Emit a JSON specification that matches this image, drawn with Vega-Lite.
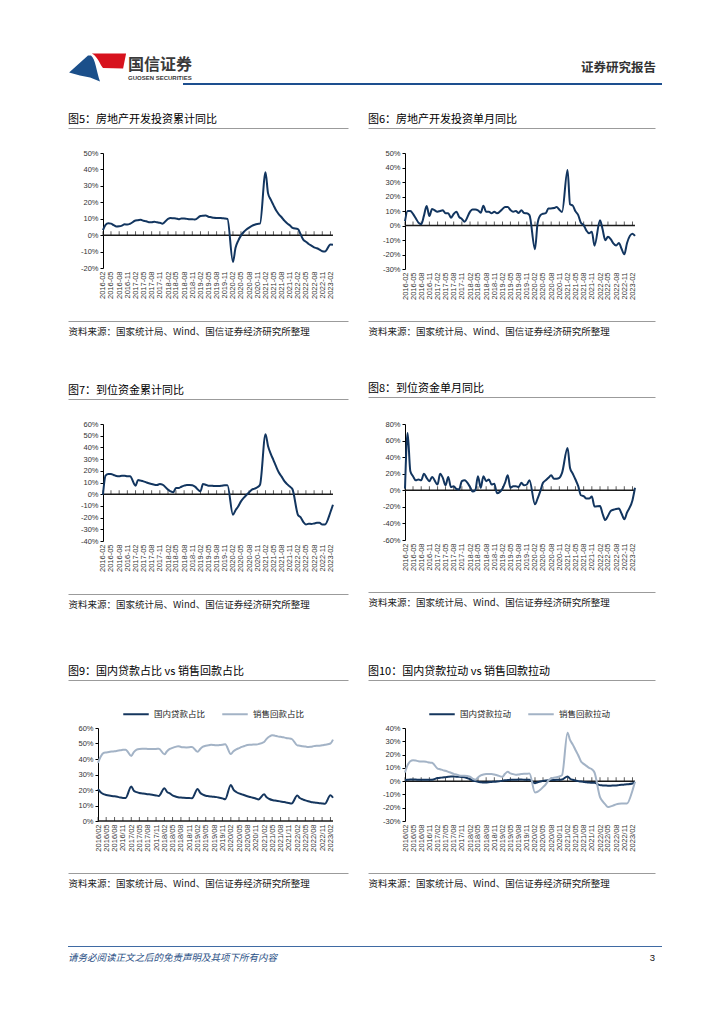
{
"$schema": "https://vega.github.io/schema/vega-lite/v6.json",
"background": "white",
"padding": {"left": 68, "top": 52, "right": 10, "bottom": 10},
"spacing": 0,
"resolve": {"scale": {"color": "independent", "shape": "independent"}, "legend": {"color": "independent"}},
"datasets": {
"ticks": [{"d":"2016-02"},{"d":"2016-05"},{"d":"2016-08"},{"d":"2016-11"},{"d":"2017-02"},{"d":"2017-05"},{"d":"2017-08"},{"d":"2017-11"},{"d":"2018-02"},{"d":"2018-05"},{"d":"2018-08"},{"d":"2018-11"},{"d":"2019-02"},{"d":"2019-05"},{"d":"2019-08"},{"d":"2019-11"},{"d":"2020-02"},{"d":"2020-05"},{"d":"2020-08"},{"d":"2020-11"},{"d":"2021-02"},{"d":"2021-05"},{"d":"2021-08"},{"d":"2021-11"},{"d":"2022-02"},{"d":"2022-05"},{"d":"2022-08"},{"d":"2022-11"},{"d":"2023-02"}],
"m": [
{"d":"2016-02","inv_ytd":3.0,"inv_m":3.0,"fund_ytd":-0.5,"fund_m":2,"国内贷款占比":20.5,"销售回款占比":37.5,"国内贷款拉动":0.8,"销售回款拉动":6.5},
{"d":"2016-03","inv_ytd":6.2,"inv_m":10.0,"fund_ytd":15.8,"fund_m":69,"国内贷款占比":18.5,"销售回款占比":41.5,"国内贷款拉动":1.0,"销售回款拉动":12},
{"d":"2016-04","inv_ytd":7.2,"inv_m":10.0,"fund_ytd":17.2,"fund_m":23,"国内贷款占比":17.3,"销售回款占比":43.9,"国内贷款拉动":1.2,"销售回款拉动":15.0},
{"d":"2016-05","inv_ytd":7.0,"inv_m":8.0,"fund_ytd":17.2,"fund_m":17,"国内贷款占比":16.8,"销售回款占比":44.2,"国内贷款拉动":1.2,"销售回款拉动":15.8},
{"d":"2016-06","inv_ytd":6.1,"inv_m":5.0,"fund_ytd":16.4,"fund_m":12,"国内贷款占比":16.4,"销售回款占比":44.5,"国内贷款拉动":1.2,"销售回款拉动":15.5},
{"d":"2016-07","inv_ytd":5.3,"inv_m":2.0,"fund_ytd":15.5,"fund_m":13,"国内贷款占比":16.1,"销售回款占比":44.8,"国内贷款拉动":1.0,"销售回款拉动":15.0},
{"d":"2016-08","inv_ytd":5.4,"inv_m":0.8,"fund_ytd":15.3,"fund_m":12,"国内贷款占比":15.9,"销售回款占比":45.0,"国内贷款拉动":1.0,"销售回款拉动":14.8},
{"d":"2016-09","inv_ytd":5.8,"inv_m":6.8,"fund_ytd":15.8,"fund_m":20,"国内贷款占比":15.6,"销售回款占比":45.3,"国内贷款拉动":1.0,"销售回款拉动":14.8},
{"d":"2016-10","inv_ytd":6.6,"inv_m":13.5,"fund_ytd":15.8,"fund_m":15,"国内贷款占比":15.2,"销售回款占比":45.6,"国内贷款拉动":1.0,"销售回款拉动":14.5},
{"d":"2016-11","inv_ytd":6.5,"inv_m":6.5,"fund_ytd":15.3,"fund_m":11,"国内贷款占比":14.9,"销售回款占比":45.9,"国内贷款拉动":1.0,"销售回款拉动":14.0},
{"d":"2016-12","inv_ytd":6.9,"inv_m":11.4,"fund_ytd":15.3,"fund_m":16,"国内贷款占比":14.9,"销售回款占比":46.0,"国内贷款拉动":1.0,"销售回款拉动":13.8},
{"d":"2017-02","inv_ytd":8.9,"inv_m":9.5,"fund_ytd":7.3,"fund_m":7,"国内贷款占比":22.3,"销售回款占比":42.0,"国内贷款拉动":2.3,"销售回款拉动":9.5},
{"d":"2017-03","inv_ytd":9.1,"inv_m":10.0,"fund_ytd":12.1,"fund_m":20,"国内贷款占比":19.5,"销售回款占比":44.5,"国内贷款拉动":2.5,"销售回款拉动":9.0},
{"d":"2017-04","inv_ytd":9.3,"inv_m":10.5,"fund_ytd":11.6,"fund_m":15,"国内贷款占比":18.6,"销售回款占比":46.0,"国内贷款拉动":2.8,"销售回款拉动":8.3},
{"d":"2017-05","inv_ytd":8.8,"inv_m":8.4,"fund_ytd":11.0,"fund_m":6,"国内贷款占比":18.0,"销售回款占比":46.5,"国内贷款拉动":3.0,"销售回款拉动":7.8},
{"d":"2017-06","inv_ytd":8.5,"inv_m":8.4,"fund_ytd":10.1,"fund_m":16,"国内贷款占比":17.8,"销售回款占比":46.6,"国内贷款拉动":3.3,"销售回款拉动":7.0},
{"d":"2017-07","inv_ytd":7.9,"inv_m":5.4,"fund_ytd":9.3,"fund_m":4,"国内贷款占比":17.6,"销售回款占比":46.6,"国内贷款拉动":3.5,"销售回款拉动":6.3},
{"d":"2017-08","inv_ytd":7.9,"inv_m":7.9,"fund_ytd":8.7,"fund_m":5,"国内贷款占比":17.3,"销售回款占比":46.5,"国内贷款拉动":3.5,"销售回款拉动":5.5},
{"d":"2017-09","inv_ytd":8.1,"inv_m":9.5,"fund_ytd":8.1,"fund_m":1.5,"国内贷款占比":17.1,"销售回款占比":46.5,"国内贷款拉动":3.3,"销售回款拉动":5.0},
{"d":"2017-10","inv_ytd":7.8,"inv_m":6.0,"fund_ytd":7.9,"fund_m":1,"国内贷款占比":16.8,"销售回款占比":46.4,"国内贷款拉动":3.3,"销售回款拉动":4.3},
{"d":"2017-11","inv_ytd":7.5,"inv_m":4.5,"fund_ytd":8.7,"fund_m":11,"国内贷款占比":16.5,"销售回款占比":46.5,"国内贷款拉动":3.2,"销售回款拉动":4.0},
{"d":"2017-12","inv_ytd":7.0,"inv_m":2.6,"fund_ytd":8.2,"fund_m":12,"国内贷款占比":16.2,"销售回款占比":46.6,"国内贷款拉动":3.0,"销售回款拉动":4.0},
{"d":"2018-02","inv_ytd":9.9,"inv_m":9.5,"fund_ytd":3.9,"fund_m":4,"国内贷款占比":21.2,"销售回款占比":43.0,"国内贷款拉动":1.5,"销售回款拉动":3.3},
{"d":"2018-03","inv_ytd":10.4,"inv_m":11.0,"fund_ytd":2.5,"fund_m":-1.5,"国内贷款占比":18.8,"销售回款占比":45.0,"国内贷款拉动":0.5,"销售回款拉动":2.0},
{"d":"2018-04","inv_ytd":10.3,"inv_m":11.0,"fund_ytd":1.6,"fund_m":0,"国内贷款占比":17.8,"销售回款占比":46.5,"国内贷款拉动":0.0,"销售回款拉动":1.0},
{"d":"2018-05","inv_ytd":10.2,"inv_m":10.5,"fund_ytd":5.3,"fund_m":17,"国内贷款占比":16.5,"销售回款占比":47.2,"国内贷款拉动":-0.5,"销售回款拉动":2.8},
{"d":"2018-06","inv_ytd":9.7,"inv_m":8.8,"fund_ytd":5.3,"fund_m":3,"国内贷款占比":15.8,"销售回款占比":47.8,"国内贷款拉动":-0.8,"销售回款拉动":4.3},
{"d":"2018-07","inv_ytd":10.2,"inv_m":13.7,"fund_ytd":6.4,"fund_m":17,"国内贷款占比":15.3,"销售回款占比":48.3,"国内贷款拉动":-1.0,"销售回款拉动":5.0},
{"d":"2018-08","inv_ytd":10.1,"inv_m":9.5,"fund_ytd":7.3,"fund_m":11,"国内贷款占比":15.1,"销售回款占比":47.8,"国内贷款拉动":-1.0,"销售回款拉动":5.3},
{"d":"2018-09","inv_ytd":9.9,"inv_m":9.5,"fund_ytd":7.9,"fund_m":13,"国内贷款占比":15.0,"销售回款占比":47.6,"国内贷款拉动":-0.8,"销售回款拉动":5.3},
{"d":"2018-10","inv_ytd":9.7,"inv_m":8.4,"fund_ytd":7.9,"fund_m":7,"国内贷款占比":14.9,"销售回款占比":47.5,"国内贷款拉动":-0.6,"销售回款拉动":5.3},
{"d":"2018-11","inv_ytd":9.7,"inv_m":9.5,"fund_ytd":7.6,"fund_m":8,"国内贷款占比":14.8,"销售回款占比":47.6,"国内贷款拉动":-0.5,"销售回款拉动":5.0},
{"d":"2018-12","inv_ytd":9.5,"inv_m":8.4,"fund_ytd":6.4,"fund_m":-3.5,"国内贷款占比":14.7,"销售回款占比":47.8,"国内贷款拉动":-0.3,"销售回款拉动":4.5},
{"d":"2019-02","inv_ytd":11.6,"inv_m":11.4,"fund_ytd":2.5,"fund_m":2,"国内贷款占比":20.7,"销售回款占比":44.6,"国内贷款拉动":0.3,"销售回款拉动":3.3},
{"d":"2019-03","inv_ytd":11.8,"inv_m":12.8,"fund_ytd":8.7,"fund_m":9,"国内贷款占比":18.2,"销售回款占比":46.5,"国内贷款拉动":0.6,"销售回款拉动":5.5},
{"d":"2019-04","inv_ytd":11.9,"inv_m":12.8,"fund_ytd":8.1,"fund_m":18,"国内贷款占比":17.0,"销售回款占比":48.0,"国内贷款拉动":0.8,"销售回款拉动":7.0},
{"d":"2019-05","inv_ytd":11.2,"inv_m":10.7,"fund_ytd":7.3,"fund_m":3,"国内贷款占比":16.3,"销售回款占比":48.6,"国内贷款拉动":1.0,"销售回款拉动":5.8},
{"d":"2019-06","inv_ytd":10.9,"inv_m":9.5,"fund_ytd":7.3,"fund_m":5,"国内贷款占比":16.0,"销售回款占比":48.8,"国内贷款拉动":1.0,"销售回款拉动":5.3},
{"d":"2019-07","inv_ytd":10.6,"inv_m":10.0,"fund_ytd":7.0,"fund_m":5,"国内贷款占比":15.8,"销售回款占比":49.2,"国内贷款拉动":1.1,"销售回款拉动":4.8},
{"d":"2019-08","inv_ytd":10.5,"inv_m":8.6,"fund_ytd":7.0,"fund_m":4,"国内贷款占比":15.6,"销售回款占比":49.0,"国内贷款拉动":1.2,"销售回款拉动":5.0},
{"d":"2019-09","inv_ytd":10.5,"inv_m":10.5,"fund_ytd":7.0,"fund_m":9,"国内贷款占比":15.4,"销售回款占比":48.8,"国内贷款拉动":1.2,"销售回款拉动":5.3},
{"d":"2019-10","inv_ytd":10.3,"inv_m":8.6,"fund_ytd":7.3,"fund_m":6,"国内贷款占比":15.0,"销售回款占比":49.0,"国内贷款拉动":1.1,"销售回款拉动":5.5},
{"d":"2019-11","inv_ytd":10.2,"inv_m":8.4,"fund_ytd":7.6,"fund_m":7,"国内贷款占比":14.6,"销售回款占比":49.2,"国内贷款拉动":1.0,"销售回款拉动":5.5},
{"d":"2019-12","inv_ytd":9.9,"inv_m":7.2,"fund_ytd":7.6,"fund_m":12,"国内贷款占比":14.1,"销售回款占比":49.5,"国内贷款拉动":1.0,"销售回款拉动":5.8},
{"d":"2020-02","inv_ytd":-16.3,"inv_m":-16.3,"fund_ytd":-17.5,"fund_m":-17,"国内贷款占比":23.3,"销售回款占比":43.2,"国内贷款拉动":-1.5,"销售回款拉动":-8.5},
{"d":"2020-03","inv_ytd":-7.7,"inv_m":1.5,"fund_ytd":-13.7,"fund_m":-10,"国内贷款占比":20.2,"销售回款占比":45.0,"国内贷款拉动":-0.8,"销售回款拉动":-8.0},
{"d":"2020-04","inv_ytd":-3.3,"inv_m":7.0,"fund_ytd":-10.3,"fund_m":-1,"国内贷款占比":18.7,"销售回款占比":46.2,"国内贷款拉动":-0.3,"销售回款拉动":-6.5},
{"d":"2020-05","inv_ytd":-0.3,"inv_m":8.1,"fund_ytd":-6.1,"fund_m":9,"国内贷款占比":17.8,"销售回款占比":47.0,"国内贷款拉动":0.2,"销售回款拉动":-4.5},
{"d":"2020-06","inv_ytd":1.9,"inv_m":8.5,"fund_ytd":-3.2,"fund_m":12,"国内贷款占比":17.2,"销售回款占比":47.8,"国内贷款拉动":0.5,"销售回款拉动":-2.5},
{"d":"2020-07","inv_ytd":3.4,"inv_m":11.7,"fund_ytd":-0.7,"fund_m":15,"国内贷款占比":16.6,"销售回款占比":48.4,"国内贷款拉动":0.7,"销售回款拉动":0.5},
{"d":"2020-08","inv_ytd":4.6,"inv_m":11.8,"fund_ytd":1.6,"fund_m":18,"国内贷款占比":16.0,"销售回款占比":49.0,"国内贷款拉动":0.8,"销售回款拉动":2.0},
{"d":"2020-09","inv_ytd":5.6,"inv_m":12.0,"fund_ytd":3.9,"fund_m":14,"国内贷款占比":15.5,"销售回款占比":49.2,"国内贷款拉动":0.9,"销售回款拉动":2.5},
{"d":"2020-10","inv_ytd":6.3,"inv_m":12.7,"fund_ytd":4.7,"fund_m":14,"国内贷款占比":15.0,"销售回款占比":49.3,"国内贷款拉动":1.0,"销售回款拉动":3.0},
{"d":"2020-11","inv_ytd":6.8,"inv_m":10.9,"fund_ytd":5.9,"fund_m":15,"国内贷款占比":14.5,"销售回款占比":49.4,"国内贷款拉动":1.0,"销售回款拉动":3.5},
{"d":"2020-12","inv_ytd":7.0,"inv_m":9.3,"fund_ytd":8.1,"fund_m":21,"国内贷款占比":13.9,"销售回款占比":49.6,"国内贷款拉动":1.2,"销售回款拉动":4.5},
{"d":"2021-02","inv_ytd":38.3,"inv_m":38.3,"fund_ytd":51.2,"fund_m":51,"国内贷款占比":17.2,"销售回款占比":51.0,"国内贷款拉动":3.5,"销售回款拉动":36.5},
{"d":"2021-03","inv_ytd":25.6,"inv_m":14.6,"fund_ytd":41.3,"fund_m":27,"国内贷款占比":15.3,"销售回款占比":53.0,"国内贷款拉动":1.8,"销售回款拉动":31},
{"d":"2021-04","inv_ytd":21.6,"inv_m":13.7,"fund_ytd":34.5,"fund_m":20,"国内贷款占比":14.2,"销售回款占比":54.5,"国内贷款拉动":1.0,"销售回款拉动":27.5},
{"d":"2021-05","inv_ytd":18.3,"inv_m":9.8,"fund_ytd":29.2,"fund_m":13,"国内贷款占比":13.5,"销售回款占比":55.3,"国内贷款拉动":0.5,"销售回款拉动":23.5},
{"d":"2021-06","inv_ytd":15.0,"inv_m":7.2,"fund_ytd":23.5,"fund_m":5,"国内贷款占比":13.2,"销售回款占比":55.0,"国内贷款拉动":0.0,"销售回款拉动":19.5},
{"d":"2021-07","inv_ytd":12.7,"inv_m":1.9,"fund_ytd":18.5,"fund_m":-6,"国内贷款占比":12.9,"销售回款占比":54.6,"国内贷款拉动":-0.3,"销售回款拉动":15},
{"d":"2021-08","inv_ytd":10.9,"inv_m":0.3,"fund_ytd":15.0,"fund_m":-7,"国内贷款占比":12.6,"销售回款占比":54.3,"国内贷款拉动":-0.6,"销售回款拉动":13},
{"d":"2021-09","inv_ytd":8.8,"inv_m":-3.5,"fund_ytd":11.1,"fund_m":-10,"国内贷款占比":12.3,"销售回款占比":54.0,"国内贷款拉动":-0.9,"销售回款拉动":11.5},
{"d":"2021-10","inv_ytd":7.2,"inv_m":-5.4,"fund_ytd":8.6,"fund_m":-10,"国内贷款占比":12.0,"销售回款占比":53.6,"国内贷款拉动":-1.1,"销售回款拉动":10},
{"d":"2021-11","inv_ytd":6.0,"inv_m":-4.3,"fund_ytd":6.5,"fund_m":-7.6,"国内贷款占比":11.6,"销售回款占比":53.3,"国内贷款拉动":-1.2,"销售回款拉动":9},
{"d":"2021-12","inv_ytd":4.4,"inv_m":-13.9,"fund_ytd":4.2,"fund_m":-19.5,"国内贷款占比":11.3,"销售回款占比":53.0,"国内贷款拉动":-1.3,"销售回款拉动":6.5},
{"d":"2022-02","inv_ytd":3.7,"inv_m":3.7,"fund_ytd":-17.7,"fund_m":-19,"国内贷款占比":16.5,"销售回款占比":48.8,"国内贷款拉动":-3.0,"销售回款拉动":-12},
{"d":"2022-03","inv_ytd":0.7,"inv_m":-2.4,"fund_ytd":-19.6,"fund_m":-28,"国内贷款占比":14.8,"销售回款占比":48.6,"国内贷款拉动":-3.2,"销售回款拉动":-15},
{"d":"2022-04","inv_ytd":-2.7,"inv_m":-10.1,"fund_ytd":-23.6,"fund_m":-36,"国内贷款占比":14.0,"销售回款占比":48.2,"国内贷款拉动":-3.3,"销售回款拉动":-17.5},
{"d":"2022-05","inv_ytd":-4.0,"inv_m":-7.8,"fund_ytd":-25.8,"fund_m":-31,"国内贷款占比":13.3,"销售回款占比":48.0,"国内贷款拉动":-3.4,"销售回款拉动":-19.5},
{"d":"2022-06","inv_ytd":-5.4,"inv_m":-9.4,"fund_ytd":-25.3,"fund_m":-25,"国内贷款占比":12.7,"销售回款占比":47.8,"国内贷款拉动":-3.4,"销售回款拉动":-19},
{"d":"2022-07","inv_ytd":-6.4,"inv_m":-12.3,"fund_ytd":-25.4,"fund_m":-23.5,"国内贷款占比":12.3,"销售回款占比":47.9,"国内贷款拉动":-3.3,"销售回款拉动":-18.3},
{"d":"2022-08","inv_ytd":-7.4,"inv_m":-13.8,"fund_ytd":-25.0,"fund_m":-22.5,"国内贷款占比":12.0,"销售回款占比":48.3,"国内贷款拉动":-3.2,"销售回款拉动":-17.5},
{"d":"2022-09","inv_ytd":-8.0,"inv_m":-12.1,"fund_ytd":-24.5,"fund_m":-22,"国内贷款占比":11.7,"销售回款占比":48.5,"国内贷款拉动":-3.0,"销售回款拉动":-17},
{"d":"2022-10","inv_ytd":-8.8,"inv_m":-16.0,"fund_ytd":-24.5,"fund_m":-28,"国内贷款占比":11.5,"销售回款占比":48.6,"国内贷款拉动":-2.8,"销售回款拉动":-16.8},
{"d":"2022-11","inv_ytd":-9.8,"inv_m":-19.9,"fund_ytd":-25.9,"fund_m":-35,"国内贷款占比":11.3,"销售回款占比":48.8,"国内贷款拉动":-2.6,"销售回款拉动":-16.8},
{"d":"2022-12","inv_ytd":-10.0,"inv_m":-12.2,"fund_ytd":-25.9,"fund_m":-27,"国内贷款占比":11.1,"销售回款占比":49.2,"国内贷款拉动":-2.4,"销售回款拉动":-16.8},
{"d":"2023-02","inv_ytd":-5.7,"inv_m":-5.7,"fund_ytd":-15.2,"fund_m":-12,"国内贷款占比":16.6,"销售回款占比":50.0,"国内贷款拉动":-1.8,"销售回款拉动":-7},
{"d":"2023-03","inv_ytd":-5.8,"inv_m":-7.2,"fund_ytd":-9.0,"fund_m":3,"国内贷款占比":15.0,"销售回款占比":52.5,"国内贷款拉动":-0.5,"销售回款拉动":-0.5}
]
},
"vconcat": [
{
"bounds": "flush",
"spacing": 0,
"hconcat": [
{"width": 58, "height": 32, "data": {"values": [{}]},
 "layer": [
  {"mark": {"type": "point", "filled": true, "size": 3600, "opacity": 1, "strokeWidth": 0, "color": "#1b4f8a", "shape": "M-0.93,0.15 L-0.3,-0.42 L-0.2,-0.42 C-0.05,-0.3 -0.02,0.1 0.1,0.45 L-0.23,0.32 L-0.57,0.25 Z"}, "encoding": {}},
  {"mark": {"type": "point", "filled": true, "size": 3600, "opacity": 1, "strokeWidth": 0, "color": "#d7121d", "shape": "M-0.17,-0.48 L0.97,-0.48 L0.87,0.02 L0.2,0 C0.1,-0.1 0.05,-0.35 -0.17,-0.48 Z"}, "encoding": {}}
 ]},
{"width": 57, "height": 32, "data": {"values": [{}]},
 "title": {"text": "国信证券", "subtitle": "GUOSEN SECURITIES", "orient": "bottom", "anchor": "start", "offset": -27, "dx": 2, "fontSize": 16, "fontWeight": "bold", "color": "#3a3a3a", "subtitleFont": "Liberation Sans", "subtitleFontSize": 6, "subtitleFontWeight": "bold", "subtitleColor": "#3a3a3a", "subtitlePadding": 2},
 "mark": {"type": "point", "opacity": 0}, "encoding": {}},
{"width": 479, "height": 32, "data": {"values": [{}]},
 "title": {"text": "证券研究报告", "orient": "top", "anchor": "end", "offset": -22, "dx": -7, "fontSize": 12.5, "fontWeight": "bold", "color": "#333333"},
 "mark": {"type": "rule", "color": "#1d4f8f", "strokeWidth": 2},
 "encoding": {"y": {"datum": 0, "type": "quantitative", "scale": {"domain": [0, 1]}, "axis": null}}}
]
},
{"width": 10, "height": 28.5, "view": {"fill": "white"}, "data": {"values": [{}]}, "mark": {"type": "point", "opacity": 0}, "encoding": {}},
{
"spacing": 20,
"hconcat": [
{
"width": 280, "height": 115,
"title": {"text": "图5：房地产开发投资累计同比"},
"layer": [
{"data": {"values": [{}]}, "mark": {"type": "rule", "color": "#1a1a1a", "strokeWidth": 1.5},
 "encoding": {
  "x": {"datum": {"year": 2016, "month": 2}, "type": "temporal", "scale": {"domain": [{"year": 2015, "month": 1, "date": 4}, {"year": 2023, "month": 8, "date": 17}], "nice": false},
   "axis": {"orient": "bottom", "offset": 53, "domain": true, "domainColor": "#9b9b9b", "domainWidth": 1, "labels": false, "ticks": false, "grid": false, "title": "资料来源：国家统计局、Wind、国信证券经济研究所整理", "titleAnchor": "start", "titleAlign": "left", "titleBaseline": "top", "titlePadding": 5, "titleFontSize": 9.5, "titleFontWeight": "normal", "titleColor": "#1a1a1a", "titleFont": "Noto Sans CJK SC"}},
  "x2": {"datum": {"year": 2023, "month": 3}},
  "y": {"datum": 0, "type": "quantitative", "scale": {"domain": [-20, 50], "nice": false, "zero": false}, "axis": null}}},
{"data": {"name": "ticks"}, "mark": {"type": "tick", "orient": "vertical", "color": "#1a1a1a", "size": 4, "thickness": 1, "yOffset": -2},
 "encoding": {
  "x": {"field": "d", "type": "temporal", "scale": {"domain": [{"year": 2015, "month": 1, "date": 4}, {"year": 2023, "month": 8, "date": 17}], "nice": false},
   "axis": {"orient": "top", "offset": 25, "domain": true, "domainColor": "#9b9b9b", "domainWidth": 1, "labels": false, "ticks": false, "grid": false, "title": null}},
  "y": {"datum": 0, "type": "quantitative", "scale": {"domain": [-20, 50], "nice": false, "zero": false}, "axis": null}}},
{"data": {"name": "m"}, "mark": {"type": "line", "color": "#12355f", "strokeWidth": 2, "interpolate": "monotone"},
 "encoding": {
  "x": {"field": "d", "type": "temporal", "scale": {"domain": [{"year": 2015, "month": 1, "date": 4}, {"year": 2023, "month": 8, "date": 17}], "nice": false},
   "axis": {"orient": "bottom", "values": [{"year":2016,"month":2},{"year":2016,"month":5},{"year":2016,"month":8},{"year":2016,"month":11},{"year":2017,"month":2},{"year":2017,"month":5},{"year":2017,"month":8},{"year":2017,"month":11},{"year":2018,"month":2},{"year":2018,"month":5},{"year":2018,"month":8},{"year":2018,"month":11},{"year":2019,"month":2},{"year":2019,"month":5},{"year":2019,"month":8},{"year":2019,"month":11},{"year":2020,"month":2},{"year":2020,"month":5},{"year":2020,"month":8},{"year":2020,"month":11},{"year":2021,"month":2},{"year":2021,"month":5},{"year":2021,"month":8},{"year":2021,"month":11},{"year":2022,"month":2},{"year":2022,"month":5},{"year":2022,"month":8},{"year":2022,"month":11},{"year":2023,"month":2}], "format": "%Y-%m", "labelAngle": -90, "labelFontSize": 7.5, "labelPadding": 3, "labelOverlap": false, "labelFlush": false, "labelBound": false, "domain": false, "ticks": false, "grid": false, "title": null}},
  "y": {"field": "inv_ytd", "type": "quantitative", "scale": {"domain": [-20, 50], "nice": false, "zero": false},
   "axis": {"orient": "left", "offset": -35, "values": [-20, -10, 0, 10, 20, 30, 40, 50], "labelExpr": "datum.value + '%'", "domain": true, "domainColor": "#000", "domainWidth": 1, "ticks": true, "tickColor": "#000", "tickSize": 3, "labelFontSize": 7.5, "labelPadding": 2, "grid": false, "title": null}}}}
],
"resolve": {"axis": {"x": "independent", "y": "independent"}}
},
{
"width": 287, "height": 116,
"title": {"text": "图6：房地产开发投资单月同比"},
"layer": [
{"data": {"values": [{}]}, "mark": {"type": "rule", "color": "#1a1a1a", "strokeWidth": 1.5},
 "encoding": {
  "x": {"datum": {"year": 2016, "month": 2}, "type": "temporal", "scale": {"domain": [{"year": 2014, "month": 12, "date": 12}, {"year": 2023, "month": 10, "date": 12}], "nice": false},
   "axis": {"orient": "bottom", "offset": 52, "domain": true, "domainColor": "#9b9b9b", "domainWidth": 1, "labels": false, "ticks": false, "grid": false, "title": "资料来源：国家统计局、Wind、国信证券经济研究所整理", "titleAnchor": "start", "titleAlign": "left", "titleBaseline": "top", "titlePadding": 5, "titleFontSize": 9.5, "titleFontWeight": "normal", "titleColor": "#1a1a1a", "titleFont": "Noto Sans CJK SC"}},
  "x2": {"datum": {"year": 2023, "month": 3}},
  "y": {"datum": 0, "type": "quantitative", "scale": {"domain": [-30, 50], "nice": false, "zero": false}, "axis": null}}},
{"data": {"name": "ticks"}, "mark": {"type": "tick", "orient": "vertical", "color": "#1a1a1a", "size": 4, "thickness": 1, "yOffset": -2},
 "encoding": {
  "x": {"field": "d", "type": "temporal", "scale": {"domain": [{"year": 2014, "month": 12, "date": 12}, {"year": 2023, "month": 10, "date": 12}], "nice": false},
   "axis": {"orient": "top", "offset": 25, "domain": true, "domainColor": "#9b9b9b", "domainWidth": 1, "labels": false, "ticks": false, "grid": false, "title": null}},
  "y": {"datum": 0, "type": "quantitative", "scale": {"domain": [-30, 50], "nice": false, "zero": false}, "axis": null}}},
{"data": {"name": "m"}, "mark": {"type": "line", "color": "#12355f", "strokeWidth": 2, "interpolate": "monotone"},
 "encoding": {
  "x": {"field": "d", "type": "temporal", "scale": {"domain": [{"year": 2014, "month": 12, "date": 12}, {"year": 2023, "month": 10, "date": 12}], "nice": false},
   "axis": {"orient": "bottom", "values": [{"year":2016,"month":2},{"year":2016,"month":5},{"year":2016,"month":8},{"year":2016,"month":11},{"year":2017,"month":2},{"year":2017,"month":5},{"year":2017,"month":8},{"year":2017,"month":11},{"year":2018,"month":2},{"year":2018,"month":5},{"year":2018,"month":8},{"year":2018,"month":11},{"year":2019,"month":2},{"year":2019,"month":5},{"year":2019,"month":8},{"year":2019,"month":11},{"year":2020,"month":2},{"year":2020,"month":5},{"year":2020,"month":8},{"year":2020,"month":11},{"year":2021,"month":2},{"year":2021,"month":5},{"year":2021,"month":8},{"year":2021,"month":11},{"year":2022,"month":2},{"year":2022,"month":5},{"year":2022,"month":8},{"year":2022,"month":11},{"year":2023,"month":2}], "format": "%Y-%m", "labelAngle": -90, "labelFontSize": 7.5, "labelPadding": 3, "labelOverlap": false, "labelFlush": false, "labelBound": false, "domain": false, "ticks": false, "grid": false, "title": null}},
  "y": {"field": "inv_m", "type": "quantitative", "scale": {"domain": [-30, 50], "nice": false, "zero": false},
   "axis": {"orient": "left", "offset": -37, "values": [-30, -20, -10, 0, 10, 20, 30, 40, 50], "labelExpr": "datum.value + '%'", "domain": true, "domainColor": "#000", "domainWidth": 1, "ticks": true, "tickColor": "#000", "tickSize": 3, "labelFontSize": 7.5, "labelPadding": 2, "grid": false, "title": null}}}}
],
"resolve": {"axis": {"x": "independent", "y": "independent"}}
}
]
},
{"width": 10, "height": 46.5, "view": {"fill": "white"}, "data": {"values": [{}]}, "mark": {"type": "point", "opacity": 0}, "encoding": {}},
{
"spacing": 20,
"hconcat": [
{
"width": 280, "height": 117,
"title": {"text": "图7：到位资金累计同比"},
"layer": [
{"data": {"values": [{}]}, "mark": {"type": "rule", "color": "#1a1a1a", "strokeWidth": 1.5},
 "encoding": {
  "x": {"datum": {"year": 2016, "month": 2}, "type": "temporal", "scale": {"domain": [{"year": 2015, "month": 1, "date": 4}, {"year": 2023, "month": 8, "date": 17}], "nice": false},
   "axis": {"orient": "bottom", "offset": 53, "domain": true, "domainColor": "#9b9b9b", "domainWidth": 1, "labels": false, "ticks": false, "grid": false, "title": "资料来源：国家统计局、Wind、国信证券经济研究所整理", "titleAnchor": "start", "titleAlign": "left", "titleBaseline": "top", "titlePadding": 5, "titleFontSize": 9.5, "titleFontWeight": "normal", "titleColor": "#1a1a1a", "titleFont": "Noto Sans CJK SC"}},
  "x2": {"datum": {"year": 2023, "month": 3}},
  "y": {"datum": 0, "type": "quantitative", "scale": {"domain": [-40, 60], "nice": false, "zero": false}, "axis": null}}},
{"data": {"name": "ticks"}, "mark": {"type": "tick", "orient": "vertical", "color": "#1a1a1a", "size": 4, "thickness": 1, "yOffset": -2},
 "encoding": {
  "x": {"field": "d", "type": "temporal", "scale": {"domain": [{"year": 2015, "month": 1, "date": 4}, {"year": 2023, "month": 8, "date": 17}], "nice": false},
   "axis": {"orient": "top", "offset": 25, "domain": true, "domainColor": "#9b9b9b", "domainWidth": 1, "labels": false, "ticks": false, "grid": false, "title": null}},
  "y": {"datum": 0, "type": "quantitative", "scale": {"domain": [-40, 60], "nice": false, "zero": false}, "axis": null}}},
{"data": {"name": "m"}, "mark": {"type": "line", "color": "#12355f", "strokeWidth": 2, "interpolate": "monotone"},
 "encoding": {
  "x": {"field": "d", "type": "temporal", "scale": {"domain": [{"year": 2015, "month": 1, "date": 4}, {"year": 2023, "month": 8, "date": 17}], "nice": false},
   "axis": {"orient": "bottom", "values": [{"year":2016,"month":2},{"year":2016,"month":5},{"year":2016,"month":8},{"year":2016,"month":11},{"year":2017,"month":2},{"year":2017,"month":5},{"year":2017,"month":8},{"year":2017,"month":11},{"year":2018,"month":2},{"year":2018,"month":5},{"year":2018,"month":8},{"year":2018,"month":11},{"year":2019,"month":2},{"year":2019,"month":5},{"year":2019,"month":8},{"year":2019,"month":11},{"year":2020,"month":2},{"year":2020,"month":5},{"year":2020,"month":8},{"year":2020,"month":11},{"year":2021,"month":2},{"year":2021,"month":5},{"year":2021,"month":8},{"year":2021,"month":11},{"year":2022,"month":2},{"year":2022,"month":5},{"year":2022,"month":8},{"year":2022,"month":11},{"year":2023,"month":2}], "format": "%Y-%m", "labelAngle": -90, "labelFontSize": 7.5, "labelPadding": 3, "labelOverlap": false, "labelFlush": false, "labelBound": false, "domain": false, "ticks": false, "grid": false, "title": null}},
  "y": {"field": "fund_ytd", "type": "quantitative", "scale": {"domain": [-40, 60], "nice": false, "zero": false},
   "axis": {"orient": "left", "offset": -35, "values": [-40, -30, -20, -10, 0, 10, 20, 30, 40, 50, 60], "labelExpr": "datum.value + '%'", "domain": true, "domainColor": "#000", "domainWidth": 1, "ticks": true, "tickColor": "#000", "tickSize": 3, "labelFontSize": 7.5, "labelPadding": 2, "grid": false, "title": null}}}}
],
"resolve": {"axis": {"x": "independent", "y": "independent"}}
},
{
"width": 287, "height": 116,
"title": {"text": "图8：到位资金单月同比"},
"layer": [
{"data": {"values": [{}]}, "mark": {"type": "rule", "color": "#1a1a1a", "strokeWidth": 1.5},
 "encoding": {
  "x": {"datum": {"year": 2016, "month": 2}, "type": "temporal", "scale": {"domain": [{"year": 2014, "month": 12, "date": 12}, {"year": 2023, "month": 10, "date": 12}], "nice": false},
   "axis": {"orient": "bottom", "offset": 52, "domain": true, "domainColor": "#9b9b9b", "domainWidth": 1, "labels": false, "ticks": false, "grid": false, "title": "资料来源：国家统计局、Wind、国信证券经济研究所整理", "titleAnchor": "start", "titleAlign": "left", "titleBaseline": "top", "titlePadding": 5, "titleFontSize": 9.5, "titleFontWeight": "normal", "titleColor": "#1a1a1a", "titleFont": "Noto Sans CJK SC"}},
  "x2": {"datum": {"year": 2023, "month": 3}},
  "y": {"datum": 0, "type": "quantitative", "scale": {"domain": [-60, 80], "nice": false, "zero": false}, "axis": null}}},
{"data": {"name": "ticks"}, "mark": {"type": "tick", "orient": "vertical", "color": "#1a1a1a", "size": 4, "thickness": 1, "yOffset": -2},
 "encoding": {
  "x": {"field": "d", "type": "temporal", "scale": {"domain": [{"year": 2014, "month": 12, "date": 12}, {"year": 2023, "month": 10, "date": 12}], "nice": false},
   "axis": {"orient": "top", "offset": 27, "domain": true, "domainColor": "#9b9b9b", "domainWidth": 1, "labels": false, "ticks": false, "grid": false, "title": null}},
  "y": {"datum": 0, "type": "quantitative", "scale": {"domain": [-60, 80], "nice": false, "zero": false}, "axis": null}}},
{"data": {"name": "m"}, "mark": {"type": "line", "color": "#12355f", "strokeWidth": 2, "interpolate": "monotone"},
 "encoding": {
  "x": {"field": "d", "type": "temporal", "scale": {"domain": [{"year": 2014, "month": 12, "date": 12}, {"year": 2023, "month": 10, "date": 12}], "nice": false},
   "axis": {"orient": "bottom", "values": [{"year":2016,"month":2},{"year":2016,"month":5},{"year":2016,"month":8},{"year":2016,"month":11},{"year":2017,"month":2},{"year":2017,"month":5},{"year":2017,"month":8},{"year":2017,"month":11},{"year":2018,"month":2},{"year":2018,"month":5},{"year":2018,"month":8},{"year":2018,"month":11},{"year":2019,"month":2},{"year":2019,"month":5},{"year":2019,"month":8},{"year":2019,"month":11},{"year":2020,"month":2},{"year":2020,"month":5},{"year":2020,"month":8},{"year":2020,"month":11},{"year":2021,"month":2},{"year":2021,"month":5},{"year":2021,"month":8},{"year":2021,"month":11},{"year":2022,"month":2},{"year":2022,"month":5},{"year":2022,"month":8},{"year":2022,"month":11},{"year":2023,"month":2}], "format": "%Y-%m", "labelAngle": -90, "labelFontSize": 7.5, "labelPadding": 3, "labelOverlap": false, "labelFlush": false, "labelBound": false, "domain": false, "ticks": false, "grid": false, "title": null}},
  "y": {"field": "fund_m", "type": "quantitative", "scale": {"domain": [-60, 80], "nice": false, "zero": false},
   "axis": {"orient": "left", "offset": -37, "values": [-60, -40, -20, 0, 20, 40, 60, 80], "labelExpr": "datum.value + '%'", "domain": true, "domainColor": "#000", "domainWidth": 1, "ticks": true, "tickColor": "#000", "tickSize": 3, "labelFontSize": 7.5, "labelPadding": 2, "grid": false, "title": null}}}}
],
"resolve": {"axis": {"x": "independent", "y": "independent"}}
}
]
},
{"width": 10, "height": 56.5, "view": {"fill": "white"}, "data": {"values": [{}]}, "mark": {"type": "point", "opacity": 0}, "encoding": {}},
{
"spacing": 20,
"resolve": {"scale": {"color": "independent"}, "legend": {"color": "independent"}},
"hconcat": [
{
"width": 280, "height": 93,
"title": {"text": "图9：国内贷款占比 vs 销售回款占比"},
"layer": [
{"data": {"values": [{}]}, "mark": {"type": "rule", "color": "#1a1a1a", "strokeWidth": 1.5},
 "encoding": {
  "x": {"datum": {"year": 2016, "month": 2}, "type": "temporal", "scale": {"domain": [{"year": 2015, "month": 3, "date": 8}, {"year": 2023, "month": 8, "date": 13}], "nice": false},
   "axis": {"orient": "bottom", "offset": 52, "domain": true, "domainColor": "#9b9b9b", "domainWidth": 1, "labels": false, "ticks": false, "grid": false, "title": "资料来源：国家统计局、Wind、国信证券经济研究所整理", "titleAnchor": "start", "titleAlign": "left", "titleBaseline": "top", "titlePadding": 5, "titleFontSize": 9.5, "titleFontWeight": "normal", "titleColor": "#1a1a1a", "titleFont": "Noto Sans CJK SC"}},
  "x2": {"datum": {"year": 2023, "month": 3}},
  "y": {"datum": 0, "type": "quantitative", "scale": {"domain": [0, 60], "nice": false, "zero": false}, "axis": null}}},
{"data": {"name": "ticks"}, "mark": {"type": "tick", "orient": "vertical", "color": "#1a1a1a", "size": 4, "thickness": 1, "yOffset": -2},
 "encoding": {
  "x": {"field": "d", "type": "temporal", "scale": {"domain": [{"year": 2015, "month": 3, "date": 8}, {"year": 2023, "month": 8, "date": 13}], "nice": false},
   "axis": {"orient": "top", "offset": 48, "domain": true, "domainColor": "#9b9b9b", "domainWidth": 1, "labels": false, "ticks": false, "grid": false, "title": null}},
  "y": {"datum": 0, "type": "quantitative", "scale": {"domain": [0, 60], "nice": false, "zero": false}, "axis": null}}},
{"data": {"name": "m"}, "transform": [{"fold": ["国内贷款占比", "销售回款占比"], "as": ["s", "v"]}],
 "mark": {"type": "line", "strokeWidth": 2, "interpolate": "monotone"},
 "encoding": {
  "x": {"field": "d", "type": "temporal", "scale": {"domain": [{"year": 2015, "month": 3, "date": 8}, {"year": 2023, "month": 8, "date": 13}], "nice": false},
   "axis": {"orient": "bottom", "values": [{"year":2016,"month":2},{"year":2016,"month":5},{"year":2016,"month":8},{"year":2016,"month":11},{"year":2017,"month":2},{"year":2017,"month":5},{"year":2017,"month":8},{"year":2017,"month":11},{"year":2018,"month":2},{"year":2018,"month":5},{"year":2018,"month":8},{"year":2018,"month":11},{"year":2019,"month":2},{"year":2019,"month":5},{"year":2019,"month":8},{"year":2019,"month":11},{"year":2020,"month":2},{"year":2020,"month":5},{"year":2020,"month":8},{"year":2020,"month":11},{"year":2021,"month":2},{"year":2021,"month":5},{"year":2021,"month":8},{"year":2021,"month":11},{"year":2022,"month":2},{"year":2022,"month":5},{"year":2022,"month":8},{"year":2022,"month":11},{"year":2023,"month":2}], "format": "%Y/%m", "labelAngle": -90, "labelFontSize": 7.5, "labelPadding": 3, "labelOverlap": false, "labelFlush": false, "labelBound": false, "domain": false, "ticks": false, "grid": false, "title": null}},
  "y": {"field": "v", "type": "quantitative", "scale": {"domain": [0, 60], "nice": false, "zero": false},
   "axis": {"orient": "left", "offset": -30, "values": [0, 10, 20, 30, 40, 50, 60], "labelExpr": "datum.value + '%'", "domain": true, "domainColor": "#000", "domainWidth": 1, "ticks": true, "tickColor": "#000", "tickSize": 3, "labelFontSize": 7.5, "labelPadding": 2, "grid": false, "title": null}},
  "color": {"field": "s", "type": "nominal", "scale": {"domain": ["国内贷款占比", "销售回款占比"], "range": ["#15365e", "#a3b3c6"]},
   "legend": {"orient": "none", "legendX": 54, "legendY": -28, "direction": "horizontal", "title": null, "symbolType": "stroke", "symbolSize": 650, "symbolStrokeWidth": 2, "labelFont": "Noto Sans CJK SC", "labelFontSize": 8.5, "labelColor": "#222", "labelOffset": 4, "columnPadding": 12}}}}
],
"resolve": {"axis": {"x": "independent", "y": "independent"}}
},
{
"width": 287, "height": 93,
"title": {"text": "图10：国内贷款拉动 vs 销售回款拉动"},
"layer": [
{"data": {"values": [{}]}, "mark": {"type": "rule", "color": "#1a1a1a", "strokeWidth": 1.5},
 "encoding": {
  "x": {"datum": {"year": 2016, "month": 2}, "type": "temporal", "scale": {"domain": [{"year": 2014, "month": 12, "date": 12}, {"year": 2023, "month": 10, "date": 12}], "nice": false},
   "axis": {"orient": "bottom", "offset": 52, "domain": true, "domainColor": "#9b9b9b", "domainWidth": 1, "labels": false, "ticks": false, "grid": false, "title": "资料来源：国家统计局、Wind、国信证券经济研究所整理", "titleAnchor": "start", "titleAlign": "left", "titleBaseline": "top", "titlePadding": 5, "titleFontSize": 9.5, "titleFontWeight": "normal", "titleColor": "#1a1a1a", "titleFont": "Noto Sans CJK SC"}},
  "x2": {"datum": {"year": 2023, "month": 3}},
  "y": {"datum": 0, "type": "quantitative", "scale": {"domain": [-30, 40], "nice": false, "zero": false}, "axis": null}}},
{"data": {"name": "ticks"}, "mark": {"type": "tick", "orient": "vertical", "color": "#1a1a1a", "size": 4, "thickness": 1, "yOffset": -2},
 "encoding": {
  "x": {"field": "d", "type": "temporal", "scale": {"domain": [{"year": 2014, "month": 12, "date": 12}, {"year": 2023, "month": 10, "date": 12}], "nice": false},
   "axis": {"orient": "top", "offset": 48, "domain": true, "domainColor": "#9b9b9b", "domainWidth": 1, "labels": false, "ticks": false, "grid": false, "title": null}},
  "y": {"datum": 0, "type": "quantitative", "scale": {"domain": [-30, 40], "nice": false, "zero": false}, "axis": null}}},
{"data": {"name": "m"}, "transform": [{"fold": ["国内贷款拉动", "销售回款拉动"], "as": ["s", "v"]}],
 "mark": {"type": "line", "strokeWidth": 2, "interpolate": "monotone"},
 "encoding": {
  "x": {"field": "d", "type": "temporal", "scale": {"domain": [{"year": 2014, "month": 12, "date": 12}, {"year": 2023, "month": 10, "date": 12}], "nice": false},
   "axis": {"orient": "bottom", "values": [{"year":2016,"month":2},{"year":2016,"month":5},{"year":2016,"month":8},{"year":2016,"month":11},{"year":2017,"month":2},{"year":2017,"month":5},{"year":2017,"month":8},{"year":2017,"month":11},{"year":2018,"month":2},{"year":2018,"month":5},{"year":2018,"month":8},{"year":2018,"month":11},{"year":2019,"month":2},{"year":2019,"month":5},{"year":2019,"month":8},{"year":2019,"month":11},{"year":2020,"month":2},{"year":2020,"month":5},{"year":2020,"month":8},{"year":2020,"month":11},{"year":2021,"month":2},{"year":2021,"month":5},{"year":2021,"month":8},{"year":2021,"month":11},{"year":2022,"month":2},{"year":2022,"month":5},{"year":2022,"month":8},{"year":2022,"month":11},{"year":2023,"month":2}], "format": "%Y/%m", "labelAngle": -90, "labelFontSize": 7.5, "labelPadding": 3, "labelOverlap": false, "labelFlush": false, "labelBound": false, "domain": false, "ticks": false, "grid": false, "title": null}},
  "y": {"field": "v", "type": "quantitative", "scale": {"domain": [-30, 40], "nice": false, "zero": false},
   "axis": {"orient": "left", "offset": -37, "values": [-30, -20, -10, 0, 10, 20, 30, 40], "labelExpr": "datum.value + '%'", "domain": true, "domainColor": "#000", "domainWidth": 1, "ticks": true, "tickColor": "#000", "tickSize": 3, "labelFontSize": 7.5, "labelPadding": 2, "grid": false, "title": null}},
  "color": {"field": "s", "type": "nominal", "scale": {"domain": ["国内贷款拉动", "销售回款拉动"], "range": ["#15365e", "#a3b3c6"]},
   "legend": {"orient": "none", "legendX": 60, "legendY": -28, "direction": "horizontal", "title": null, "symbolType": "stroke", "symbolSize": 650, "symbolStrokeWidth": 2, "labelFont": "Noto Sans CJK SC", "labelFontSize": 8.5, "labelColor": "#222", "labelOffset": 4, "columnPadding": 12}}}}
],
"resolve": {"axis": {"x": "independent", "y": "independent"}}
}
]
},
{"width": 10, "height": 55, "view": {"fill": "white"}, "data": {"values": [{}]}, "mark": {"type": "point", "opacity": 0}, "encoding": {}},
{
"bounds": "flush",
"spacing": 0,
"hconcat": [
{"width": 560, "height": 1, "view": {"fill": "#3f6aa3"}, "data": {"values": [{}]},
 "title": {"text": "请务必阅读正文之后的免责声明及其项下所有内容", "orient": "bottom", "anchor": "start", "offset": 4, "fontSize": 9.5, "fontStyle": "italic", "color": "#2a4f85"},
 "mark": {"type": "point", "opacity": 0}, "encoding": {}},
{"width": 34, "height": 1, "view": {"fill": "#3f6aa3"}, "data": {"values": [{}]},
 "title": {"text": "3", "orient": "bottom", "anchor": "end", "offset": 4, "dx": -7, "fontSize": 9.5, "color": "#111", "font": "Liberation Sans"},
 "mark": {"type": "point", "opacity": 0}, "encoding": {}}
]
}
],
"config": {
 "view": {"stroke": null},
 "font": "Noto Sans CJK SC",
 "axis": {"grid": false, "labelFont": "Liberation Sans", "labelColor": "#333333", "titleFont": "Noto Sans CJK SC"},
 "title": {"font": "Noto Sans CJK SC", "fontSize": 11, "fontWeight": "normal", "color": "#000000", "anchor": "start", "offset": 3}
}
}
